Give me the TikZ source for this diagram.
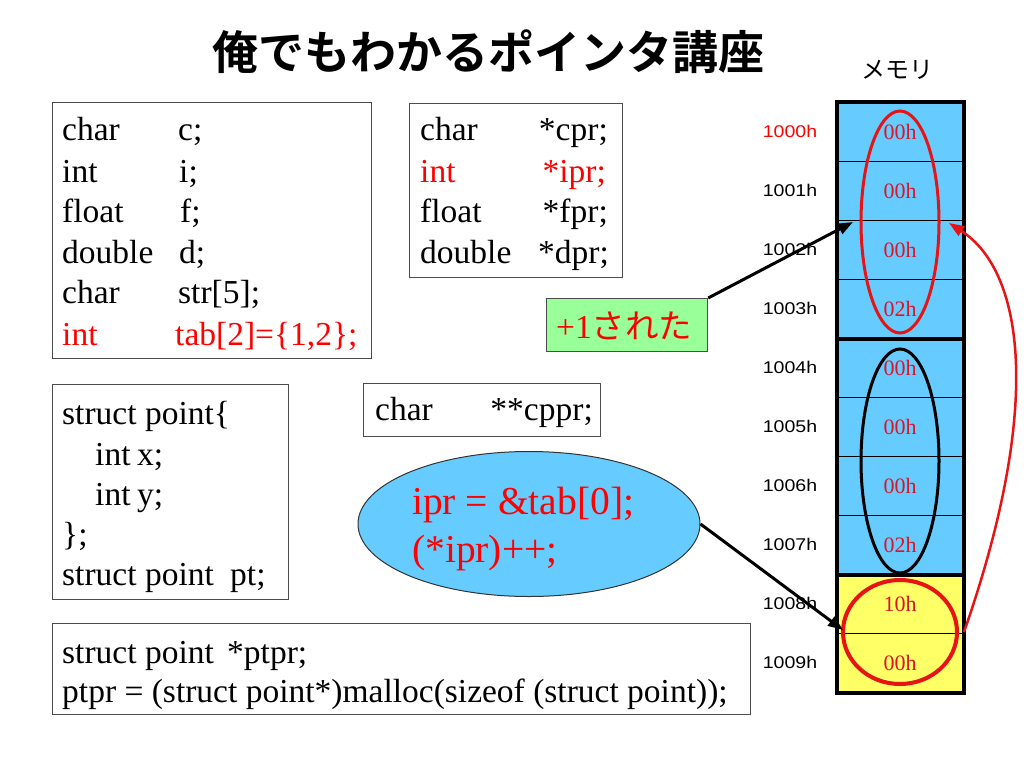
\documentclass[tikz,border=0pt]{standalone}
\usepackage{fontspec}
\setmainfont{Liberation Serif}
\newfontfamily\jptitle{Noto Sans CJK JP Bold}
\newfontfamily\jpfont{Noto Sans CJK JP}
\newfontfamily\addrfont{Liberation Sans}[FakeStretch=1.15]
\usetikzlibrary{shapes.geometric,arrows.meta}
\definecolor{memblue}{RGB}{102,204,255}
\definecolor{memyellow}{RGB}{255,255,102}
\definecolor{boxgreen}{RGB}{153,255,153}
\definecolor{valred}{RGB}{220,20,40}
\definecolor{ringred}{RGB}{230,20,20}
\begin{document}
\begin{tikzpicture}[x=1pt,y=-1pt,
  box/.style={draw=black!70, line width=1.2pt, anchor=north west, inner sep=0pt},
  codetxt/.style={anchor=base west, inner sep=0pt, font=\fontsize{33.5}{38}\selectfont},
  codeR/.style={anchor=base east, inner sep=0pt, font=\fontsize{33.5}{38}\selectfont},
  bigtxt/.style={anchor=base west, inner sep=0pt, text=red, font=\fontsize{39.5}{46}\selectfont},
  cell/.style={draw=black, line width=1pt, minimum width=126, minimum height=59, inner sep=0pt,
    text=valred, font=\fontsize{22}{24}\selectfont},
  addr/.style={inner sep=0pt, font=\addrfont\fontsize{17}{19}\selectfont},
  ptrarrow/.style={line width=3pt, -{Triangle[length=15pt,width=11pt]}},
  ring/.style={line width=3pt}
]
\useasboundingbox (0,0) rectangle (1024,768);
\fill[white] (0,0) rectangle (1024,768);

% title
\node[font=\jptitle\fontsize{46}{50}\selectfont, inner sep=0pt] (title) at (488,52) {俺でもわかるポインタ講座};
\node[font=\jpfont\fontsize{24}{28}\selectfont, inner sep=0pt] (memlabel) at (897,70) {メモリ};

% box 1
\node[box, minimum width=319, minimum height=256] (b1) at (52,102) {};
\node[codetxt] (b1a1) at (62,140) {char};   \node[codetxt] (b1b1) at (178,140) {c;};
\node[codetxt] (b1a2) at (62,182) {int};    \node[codetxt] (b1b2) at (179,182) {i;};
\node[codetxt] (b1a3) at (62,222) {float};  \node[codetxt] (b1b3) at (180,222) {f;};
\node[codetxt] (b1a4) at (62,263) {double}; \node[codetxt] (b1b4) at (179,263) {d;};
\node[codetxt] (b1a5) at (62,303) {char};   \node[codetxt] (b1b5) at (178,303) {str[5];};
\node[codetxt, text=red] (b1a6) at (62,345) {int}; \node[codetxt, text=red] (b1b6) at (175,345) {tab[2]=\{1,2\};};

% box 2
\node[box, minimum width=213, minimum height=174] (b2) at (409,103) {};
\node[codetxt] (b2a1) at (420,140) {char};   \node[codeR] (b2b1) at (608,140) {*cpr;};
\node[codetxt, text=red] (b2a2) at (420,182) {int}; \node[codeR, text=red] (b2b2) at (606,182) {*ipr;};
\node[codetxt] (b2a3) at (420,222) {float};  \node[codeR] (b2b3) at (608,222) {*fpr;};
\node[codetxt] (b2a4) at (420,263) {double}; \node[codeR] (b2b4) at (609,263) {*dpr;};

% green box
\node[box, fill=boxgreen, minimum width=161, minimum height=53] (plus) at (546,298) {};
\node[codetxt, text=red] (plustxt) at (556,338) {+1{\jpfont された}};

% cppr box
\node[box, minimum width=237, minimum height=53] (b3) at (363,383) {};
\node[codetxt] (b3a) at (375,420) {char}; \node[codeR] (b3b) at (593,420) {**cppr;};

% struct box
\node[box, minimum width=236, minimum height=215] (b4) at (52,384) {};
\node[codetxt] (b4l1) at (62,424) {struct point\{};
\node[codetxt] (b4l2a) at (95,465) {int}; \node[codetxt] (b4l2b) at (137,465) {x;};
\node[codetxt] (b4l3a) at (95,505) {int}; \node[codetxt] (b4l3b) at (137,505) {y;};
\node[codetxt] (b4l4) at (62,545) {\};};
\node[codetxt] (b4l5a) at (62,585) {struct point}; \node[codetxt] (b4l5b) at (230,585) {pt;};

% bottom box
\node[box, minimum width=698, minimum height=91] (b5) at (52,623) {};
\node[codetxt] (b5l1a) at (62,663) {struct point}; \node[codetxt] (b5l1b) at (227,663) {*ptpr;};
\node[codetxt] (b5l2) at (62,702) {ptpr = (struct point*)malloc(sizeof (struct point));};

% code ellipse
\node[ellipse, draw=black!80, line width=1pt, fill=memblue, minimum width=342, minimum height=145, inner sep=0pt] (code) at (529,524) {};
\node[bigtxt] (codel1) at (412,514) {ipr = \&tab[0];};
\node[bigtxt] (codel2) at (412,562) {(*ipr)++;};

% memory
\foreach \i/\v in {0/00h,1/00h,2/00h,3/02h,4/00h,5/00h,6/00h,7/02h}{
  \node[cell, fill=memblue] (m\i) at (900,{131.5+59*\i}) {\v};
}
\node[cell, fill=memyellow] (m8) at (900,{131.5+59*8}) {10h};
\node[cell, fill=memyellow] (m9) at (900,{131.5+59*9}) {00h};
\draw[line width=4pt] (m0.north west) rectangle (m9.south east);
\draw[line width=4pt] (m3.south west) -- (m3.south east);
\draw[line width=4pt] (m7.south west) -- (m7.south east);

\node[addr, text=red] (a0) at (790,{131.5}) {1000h};
\foreach \i in {1,...,9}{
  \node[addr] (a\i) at (790,{131.5+59*\i}) {100\i h};
}

% rings
\draw[ring, draw=ringred] (900,222) ellipse [x radius=39, y radius=111];
\draw[ring, draw=black] (900,461) ellipse [x radius=39, y radius=112];
\draw[line width=4pt, draw=ringred] (900,632) ellipse [x radius=57, y radius=52];

% connectors
\coordinate (tipA) at (853,222);
\coordinate (tipB) at (843,630);
\coordinate (tipC) at (949,223);
\coordinate (startC) at (964,632);
\draw[ptrarrow] (plus.north east) -- (tipA);
\draw[ptrarrow] (code.east) -- (tipB);
\draw[line width=2.5pt, draw=ringred, -{Triangle[length=15pt,width=11pt]}, color=ringred]
  (startC) .. controls (1045,400) and (1022,270) .. (tipC);
\end{tikzpicture}
\end{document}
